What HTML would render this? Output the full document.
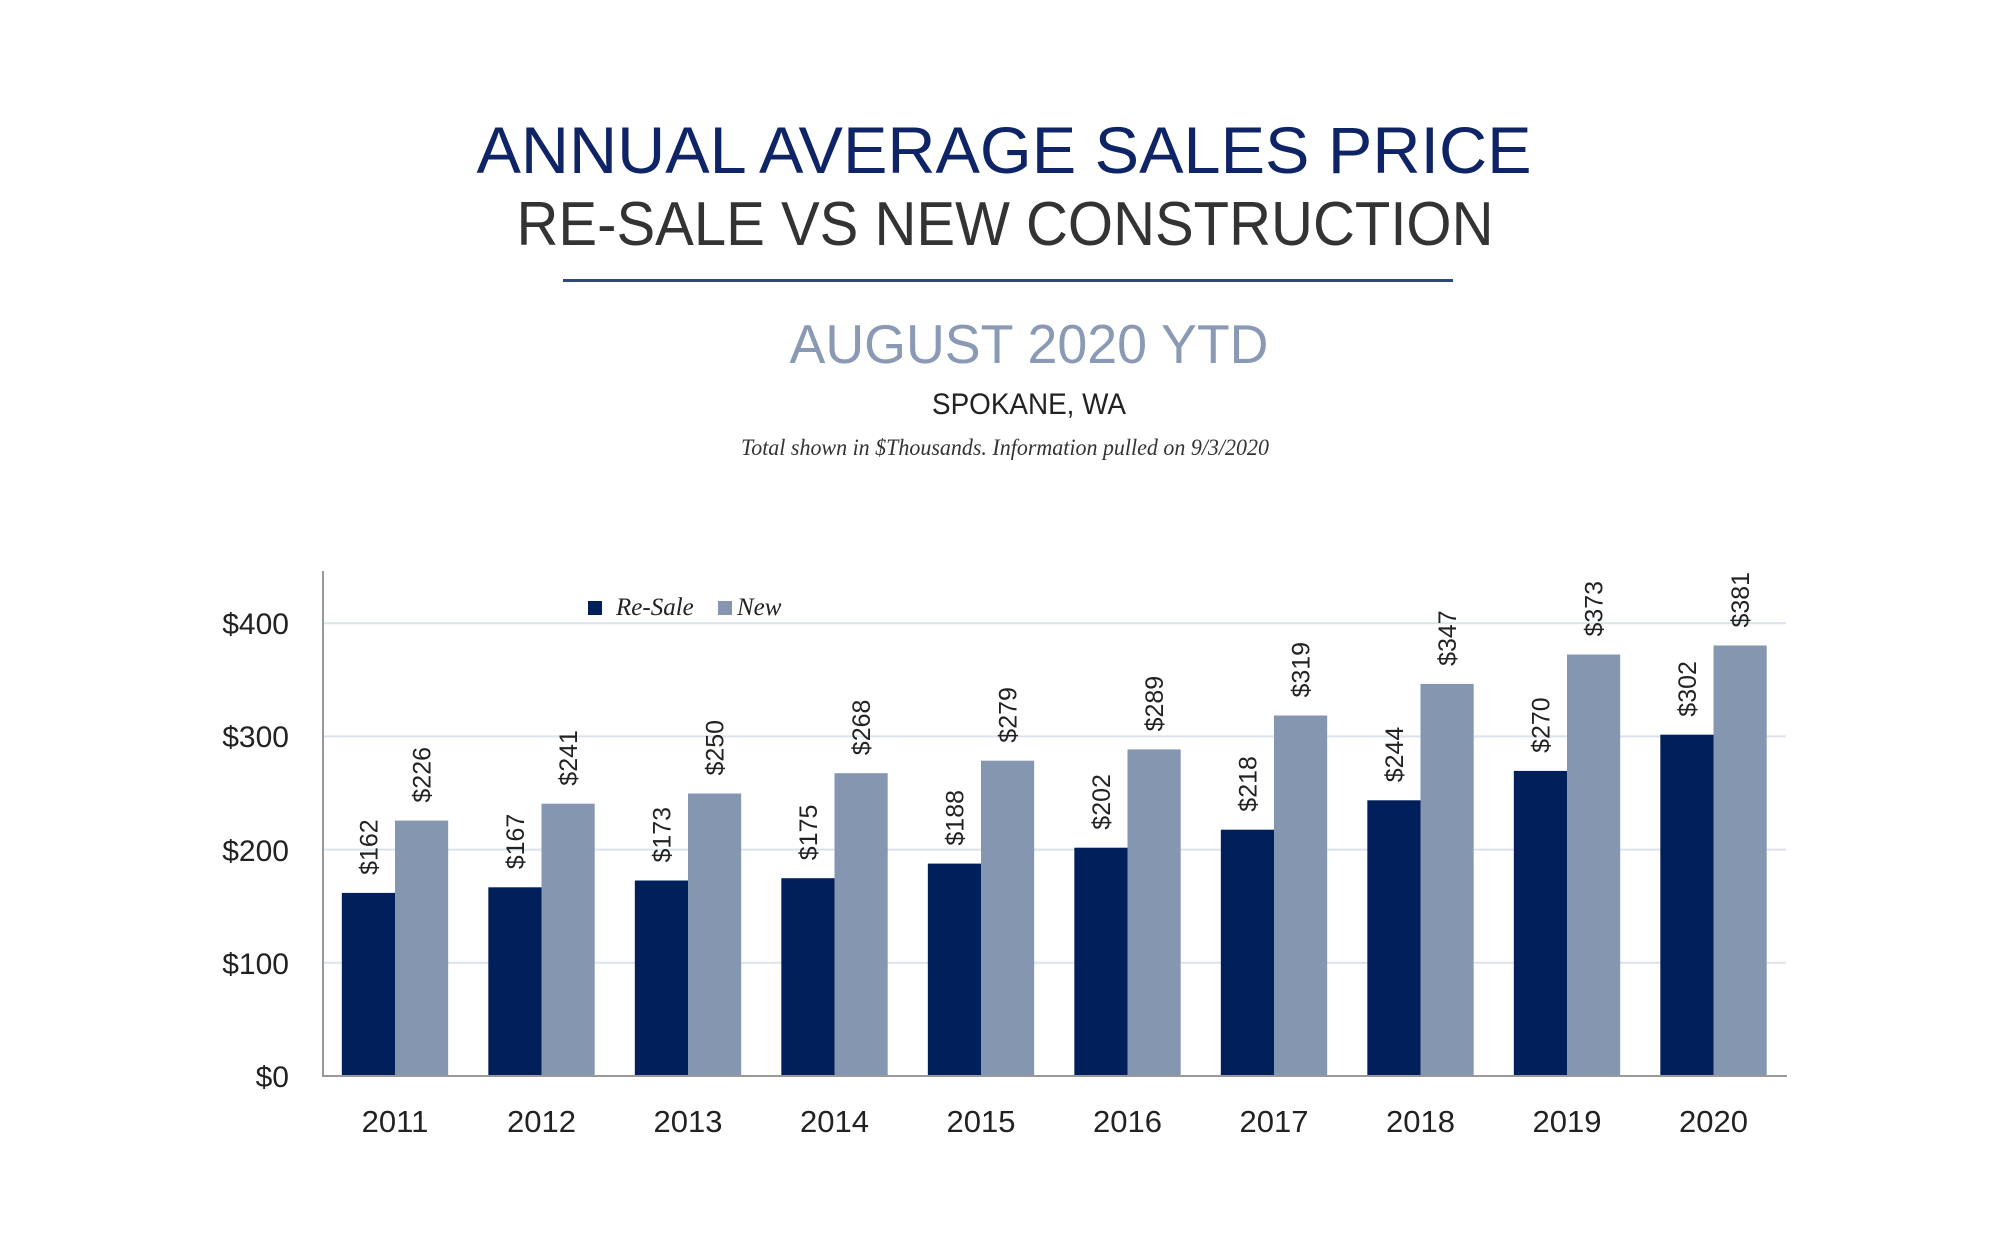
<!DOCTYPE html>
<html><head><meta charset="utf-8"><style>
html,body{margin:0;padding:0;background:#fff;}
svg{display:block;}
</style></head><body>
<svg width="2000" height="1250" viewBox="0 0 2000 1250" xmlns="http://www.w3.org/2000/svg">
<rect width="2000" height="1250" fill="#fff"/>
<text x="1004" y="173" text-anchor="middle" font-family="Liberation Sans, sans-serif" font-size="66" fill="#0f2466" textLength="1055" lengthAdjust="spacingAndGlyphs">ANNUAL AVERAGE SALES PRICE</text>
<text x="1005" y="245" text-anchor="middle" font-family="Liberation Sans, sans-serif" font-size="62" fill="#333" textLength="977" lengthAdjust="spacingAndGlyphs">RE-SALE VS NEW CONSTRUCTION</text>
<rect x="563" y="279" width="890" height="3" fill="#2f4a7a"/>
<text x="1029" y="363" text-anchor="middle" font-family="Liberation Sans, sans-serif" font-size="55" fill="#8a9ab5" textLength="479" lengthAdjust="spacingAndGlyphs">AUGUST 2020 YTD</text>
<text x="1029" y="414" text-anchor="middle" font-family="Liberation Sans, sans-serif" font-size="30" fill="#222" textLength="194" lengthAdjust="spacingAndGlyphs">SPOKANE, WA</text>
<text x="1005" y="455" text-anchor="middle" font-family="Liberation Serif, serif" font-style="italic" font-size="23" fill="#333" textLength="528" lengthAdjust="spacingAndGlyphs">Total shown in $Thousands. Information pulled on 9/3/2020</text>

<g stroke="#dde3ec" stroke-width="2">
<line x1="322" x2="1786" y1="962.8" y2="962.8"/>
<line x1="322" x2="1786" y1="849.6" y2="849.6"/>
<line x1="322" x2="1786" y1="736.4" y2="736.4"/>
<line x1="322" x2="1786" y1="623.2" y2="623.2"/>
</g>
<g font-family="Liberation Sans, sans-serif" font-size="30" fill="#222" text-anchor="end">
<text x="289" y="1087">$0</text>
<text x="289" y="974">$100</text>
<text x="289" y="861">$200</text>
<text x="289" y="747">$300</text>
<text x="289" y="634">$400</text>
</g>

<g transform="translate(395,-3) scale(0.9939,1) translate(-395,0)">
<g fill="#001f5b">
<rect x="341.5" y="895.9" width="53.5" height="183.1"/>
<rect x="488.9" y="890.3" width="53.5" height="188.7"/>
<rect x="636.3" y="883.5" width="53.5" height="195.5"/>
<rect x="783.7" y="881.2" width="53.5" height="197.8"/>
<rect x="931.1" y="866.6" width="53.5" height="212.4"/>
<rect x="1078.5" y="850.7" width="53.5" height="228.3"/>
<rect x="1225.9" y="832.7" width="53.5" height="246.3"/>
<rect x="1373.3" y="803.3" width="53.5" height="275.7"/>
<rect x="1520.7" y="773.9" width="53.5" height="305.1"/>
<rect x="1668.1" y="737.7" width="53.5" height="341.3"/>
</g>
<g fill="#8496b0">
<rect x="395" y="823.6" width="53.5" height="255.4"/>
<rect x="542.4" y="806.7" width="53.5" height="272.3"/>
<rect x="689.8" y="796.5" width="53.5" height="282.5"/>
<rect x="837.2" y="776.2" width="53.5" height="302.8"/>
<rect x="984.6" y="763.7" width="53.5" height="315.3"/>
<rect x="1132" y="752.4" width="53.5" height="326.6"/>
<rect x="1279.4" y="718.5" width="53.5" height="360.5"/>
<rect x="1426.8" y="686.9" width="53.5" height="392.1"/>
<rect x="1574.2" y="657.5" width="53.5" height="421.5"/>
<rect x="1721.6" y="648.5" width="53.5" height="430.5"/>
</g>
<g font-family="Liberation Sans, sans-serif" font-size="25" fill="#222">
<text transform="translate(377.25,877.9) rotate(-90)">$162</text>
<text transform="translate(524.65,872.3) rotate(-90)">$167</text>
<text transform="translate(672.05,865.5) rotate(-90)">$173</text>
<text transform="translate(819.45,863.2) rotate(-90)">$175</text>
<text transform="translate(966.85,848.6) rotate(-90)">$188</text>
<text transform="translate(1114.25,832.7) rotate(-90)">$202</text>
<text transform="translate(1261.65,814.7) rotate(-90)">$218</text>
<text transform="translate(1409.05,785.3) rotate(-90)">$244</text>
<text transform="translate(1556.45,755.9) rotate(-90)">$270</text>
<text transform="translate(1703.85,719.7) rotate(-90)">$302</text>
<text transform="translate(430.75,805.6) rotate(-90)">$226</text>
<text transform="translate(578.15,788.7) rotate(-90)">$241</text>
<text transform="translate(725.55,778.5) rotate(-90)">$250</text>
<text transform="translate(872.95,758.2) rotate(-90)">$268</text>
<text transform="translate(1020.35,745.7) rotate(-90)">$279</text>
<text transform="translate(1167.75,734.4) rotate(-90)">$289</text>
<text transform="translate(1315.15,700.5) rotate(-90)">$319</text>
<text transform="translate(1462.55,668.9) rotate(-90)">$347</text>
<text transform="translate(1609.95,639.5) rotate(-90)">$373</text>
<text transform="translate(1757.35,630.5) rotate(-90)">$381</text>
</g>
</g>

<line x1="323" y1="571" x2="323" y2="1077" stroke="#999" stroke-width="2"/>
<line x1="322" y1="1076" x2="1787" y2="1076" stroke="#999" stroke-width="2"/>

<g font-family="Liberation Sans, sans-serif" font-size="31" fill="#222" text-anchor="middle">
<text x="395" y="1132">2011</text>
<text x="541.5" y="1132">2012</text>
<text x="688" y="1132">2013</text>
<text x="834.5" y="1132">2014</text>
<text x="981" y="1132">2015</text>
<text x="1127.5" y="1132">2016</text>
<text x="1274" y="1132">2017</text>
<text x="1420.5" y="1132">2018</text>
<text x="1567" y="1132">2019</text>
<text x="1713.5" y="1132">2020</text>
</g>

<rect x="588" y="601" width="14" height="14" fill="#001f5b"/>
<text x="616" y="615" font-family="Liberation Serif, serif" font-style="italic" font-size="25" fill="#222">Re-Sale</text>
<rect x="718" y="601" width="14" height="14" fill="#8496b0"/>
<text x="737" y="615" font-family="Liberation Serif, serif" font-style="italic" font-size="25" fill="#222">New</text>
</svg>
</body></html>
